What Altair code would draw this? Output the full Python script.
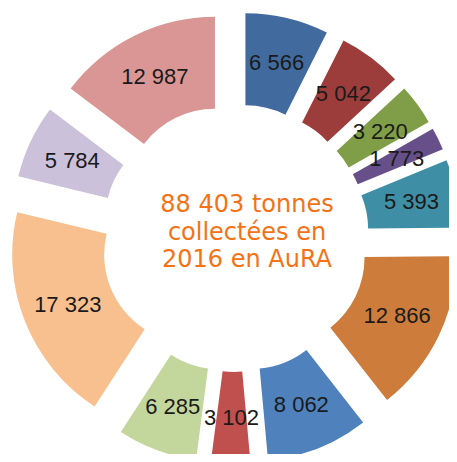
import altair as alt
import pandas as pd

# Data (tonnes, clockwise from 12 o'clock)
values = [6566, 5042, 3220, 1773, 5393, 12866, 8062, 3102, 6285, 17323, 5784, 12987]
colors = ["#416a9e", "#9d3d3b", "#7f9e47", "#67508a", "#3e8fa5", "#cd7c3b",
          "#4f81bd", "#c0504d", "#c3d69b", "#f9c08f", "#ccc1da", "#d99694"]
labels = [f"{v:,}".replace(",", " ") for v in values]
center_text = "88 403 tonnes\ncollectées en\n2016 en AuRA"

# Layout (styling) constants
W, H = 441, 446
CX, CY = 227, 230
R_IN, R_OUT = 89, 181
EXPLODE = 45
LABEL_R = 180

df = pd.DataFrame({"idx": list(range(len(values))), "value": values,
                   "label": labels, "color": colors})

base = alt.Chart(df).transform_joinaggregate(
    total="sum(value)"
).transform_window(
    cum="sum(value)", sort=[alt.SortField("idx")], frame=[None, 0]
).transform_calculate(
    a0="2*PI*(datum.cum - datum.value)/datum.total",
    a1="2*PI*datum.cum/datum.total",
).transform_calculate(
    mid="(datum.a0 + datum.a1)/2"
).transform_calculate(
    cx=f"{CX} + {EXPLODE}*sin(datum.mid)",
    cy=f"{CY} - {EXPLODE}*cos(datum.mid)",
    lx=f"{CX} + {LABEL_R}*sin(datum.mid)",
    ly=f"{CY} - {LABEL_R}*cos(datum.mid)",
)

arcs = base.mark_arc(radius=R_OUT, radius2=R_IN).encode(
    theta=alt.Theta("a0:Q", scale=None, stack=None),
    theta2="a1:Q",
    x=alt.X("cx:Q", scale=None),
    y=alt.Y("cy:Q", scale=None),
    color=alt.Color("color:N", scale=None),
)

texts = base.mark_text(font="Liberation Sans", fontSize=22, color="#1a1a1a",
                       align="center", baseline="middle").encode(
    x=alt.X("lx:Q", scale=None), y=alt.Y("ly:Q", scale=None), text="label:N")

center = alt.Chart(pd.DataFrame({"t": [center_text]})).mark_text(
    font="DejaVu Sans", fontSize=24, color="#f47216", align="center",
    baseline="alphabetic", lineBreak="\n", lineHeight=27.5
).encode(x=alt.value(239), y=alt.value(204), text="t:N")

chart = alt.layer(arcs, texts, center).properties(
    width=W, height=H, padding=0, autosize="none"
).configure_view(stroke=None)

chart.save("out.html", embed_options={"renderer": "svg", "actions": False})
